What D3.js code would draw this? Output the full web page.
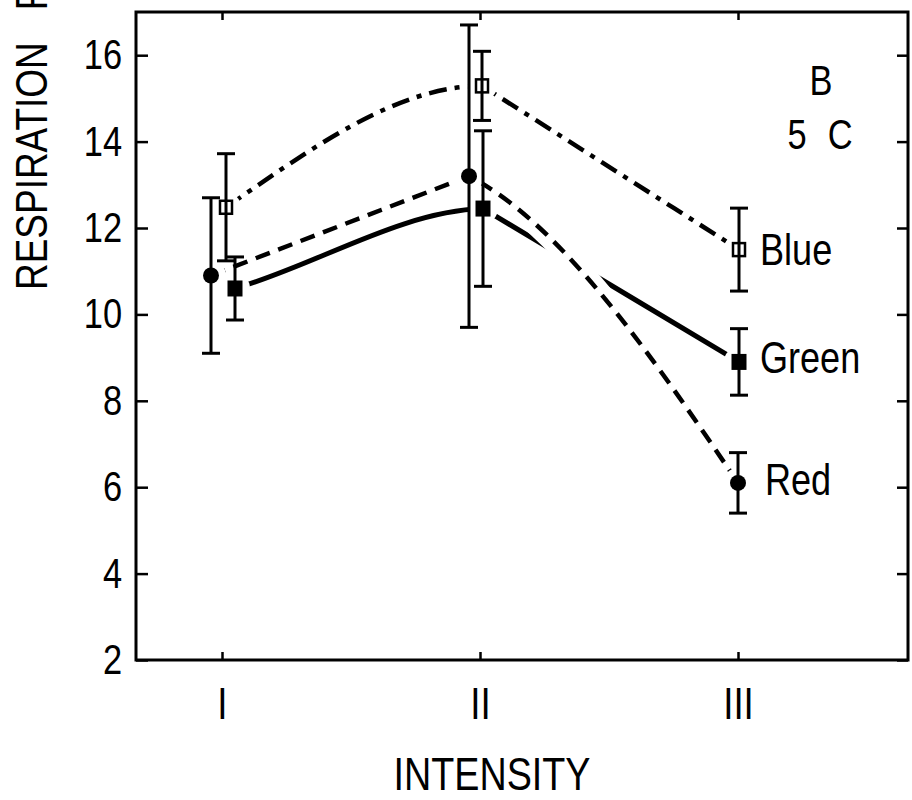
<!DOCTYPE html>
<html>
<head>
<meta charset="utf-8">
<script src="https://cdn.jsdelivr.net/npm/d3@7"></script>
<style>
  html, body { margin: 0; padding: 0; background: #fff; }
  svg { display: block; }
  text { fill: #000; }
</style>
</head>
<body>
<svg id="chart"></svg>
<script>
/* ------------------ data ------------------ */

const CATEGORIES = ["I", "II", "III"];
const Y_TICKS = [2, 4, 6, 8, 10, 12, 14, 16];

const RED_MEAN = [10.9, 13.2, 6.1];
const RED_ERR = [1.8, 3.5, 0.7];

const GREEN_MEAN = [10.6, 12.45, 8.9];
const GREEN_ERR = [0.73, 1.8, 0.77];

const BLUE_MEAN = [12.48, 15.29, 11.5];
const BLUE_ERR = [1.24, 0.8, 0.96];

const SERIES_NAMES = ["Blue", "Green", "Red"];

/* ------------------ layout / style ------------------ */

const WIDTH = 912;
const HEIGHT = 800;
const FRAME = { left: 136, right: 908, top: 12, bottom: 660 };
const FONT = "'Liberation Sans', Arial, sans-serif";
const SQUEEZE = 0.82;   // the original lettering is a narrow sans
const GAP = 15;

// horizontal dodge of each series inside a category, in px
const DODGE = {
  Red: [-11, -11, 0],
  Blue: [4, 2, 1],
  Green: [13, 3, 1]
};

// curve shape per segment: tangent multipliers of the chord slope
const BEND = {
  Red: [[1, 1], [0.45, 1.3]],
  Blue: [[1.45, 0], [1, 1]],
  Green: [[0.9, 0.1], [1, 1]]
};

const series = [
  { name: "Blue", mean: BLUE_MEAN, err: BLUE_ERR, dash: "18,8,5,8", width: 4.5, marker: "open" },
  { name: "Green", mean: GREEN_MEAN, err: GREEN_ERR, dash: null, width: 5, marker: "square" },
  { name: "Red", mean: RED_MEAN, err: RED_ERR, dash: "15,9", width: 4.5, marker: "circle" }
];

/* ------------------ scales ------------------ */

const x = d3.scaleLinear().domain([1, 3]).range([222, 738]);
const y = d3.scaleLinear().domain([2, 17]).range([FRAME.bottom, FRAME.top]);

series.forEach(s => {
  s.points = s.mean.map((m, i) => ({
    x: x(i + 1) + DODGE[s.name][i],
    y: y(m),
    hi: y(m + s.err[i]),
    lo: y(m - s.err[i])
  }));
});

function bentPath(pts, bends) {
  const p = d3.path();
  p.moveTo(pts[0].x, pts[0].y);
  for (let i = 0; i < pts.length - 1; i++) {
    const a = pts[i], b = pts[i + 1];
    const dx = b.x - a.x;
    const c = (b.y - a.y) / dx;
    const [ka, kb] = bends[i];
    p.bezierCurveTo(
      a.x + dx / 3, a.y + ka * c * dx / 3,
      b.x - dx / 3, b.y - kb * c * dx / 3,
      b.x, b.y
    );
  }
  return p.toString();
}

// narrow text placed at (tx, ty)
function label(parent, tx, ty, str, size, rotate = 0, squeeze = SQUEEZE) {
  return parent.append("text")
    .attr("transform", `translate(${tx},${ty}) rotate(${rotate}) scale(${squeeze},1)`)
    .attr("font-size", size)
    .text(str);
}

/* ------------------ render ------------------ */

const svg = d3.select("#chart")
  .attr("width", WIDTH)
  .attr("height", HEIGHT)
  .style("font-family", FONT);

const defs = svg.append("defs");

series.forEach(s => {
  const mask = defs.append("mask")
    .attr("id", `gap-${s.name}`)
    .attr("maskUnits", "userSpaceOnUse")
    .attr("x", 0).attr("y", 0)
    .attr("width", WIDTH).attr("height", HEIGHT);
  mask.append("rect")
    .attr("width", WIDTH).attr("height", HEIGHT)
    .attr("fill", "#fff");
  mask.selectAll("circle")
    .data(s.points)
    .join("circle")
    .attr("cx", d => d.x)
    .attr("cy", d => d.y)
    .attr("r", GAP)
    .attr("fill", "#000");
});

/* ---- axes ---- */

const axisText = g => g.selectAll("text")
  .style("font-family", FONT)
  .attr("fill", "#000")
  .attr("transform", `scale(${SQUEEZE},1)`);

svg.append("g")
  .attr("transform", `translate(${FRAME.left},0)`)
  .call(d3.axisLeft(y).tickValues(Y_TICKS).tickSize(-12).tickPadding(17).tickFormat(d3.format("d")))
  .attr("font-size", 42)
  .call(axisText);

svg.append("g")
  .attr("transform", `translate(${FRAME.right},0)`)
  .call(d3.axisRight(y).tickValues(Y_TICKS).tickSize(-11).tickFormat(""));

svg.append("g")
  .attr("transform", `translate(0,${FRAME.top})`)
  .call(d3.axisTop(x).tickValues([1, 2, 3]).tickSize(-8).tickFormat(""));

svg.append("g")
  .attr("transform", `translate(0,${FRAME.bottom})`)
  .call(d3.axisBottom(x).tickValues([1, 2, 3]).tickSize(-8).tickPadding(27)
    .tickFormat(d => CATEGORIES[d - 1]))
  .attr("font-size", 45)
  .call(axisText);

svg.selectAll(".domain").remove();
svg.selectAll(".tick line").attr("stroke", "#000").attr("stroke-width", 2.5);

svg.append("rect")
  .attr("x", FRAME.left)
  .attr("y", FRAME.top)
  .attr("width", FRAME.right - FRAME.left)
  .attr("height", FRAME.bottom - FRAME.top)
  .attr("fill", "none")
  .attr("stroke", "#000")
  .attr("stroke-width", 3);

/* ---- axis titles ---- */

// the title runs off the top edge of the page, as in the original
label(svg, 47, 290, "RESPIRATION RATE", 44, -90, 0.84)
  .attr("word-spacing", 26);

label(svg, 492, 790, "INTENSITY", 46)
  .attr("text-anchor", "middle");

/* ---- panel label ---- */

label(svg, 821, 95, "B", 42)
  .attr("text-anchor", "middle");

label(svg, 820, 149, "5 C", 42)
  .attr("text-anchor", "middle")
  .attr("word-spacing", 14)
  .attr("xml:space", "preserve");

/* ---- lines ---- */

const lines = svg.append("g").attr("fill", "none").attr("stroke-linecap", "butt");

series.forEach(s => {
  const d = bentPath(s.points, BEND[s.name]);
  if (s.name === "Red") {
    // white casing knocks a gap out of the green line where they cross
    lines.append("path")
      .attr("d", d)
      .attr("mask", `url(#gap-${s.name})`)
      .attr("stroke", "#fff")
      .attr("stroke-width", 22);
  }
  lines.append("path")
    .attr("d", d)
    .attr("mask", `url(#gap-${s.name})`)
    .attr("stroke", "#000")
    .attr("stroke-width", s.width)
    .attr("stroke-dasharray", s.dash);
});

/* ---- error bars ---- */

const CAP = 9;
const bars = svg.append("g").attr("stroke", "#000").attr("stroke-width", 3);

series.forEach(s => {
  const g = bars.append("g");
  g.selectAll("line.stem").data(s.points).join("line")
    .attr("class", "stem")
    .attr("x1", d => d.x).attr("x2", d => d.x)
    .attr("y1", d => d.hi).attr("y2", d => d.lo);
  g.selectAll("line.cap-hi").data(s.points).join("line")
    .attr("class", "cap-hi")
    .attr("x1", d => d.x - CAP).attr("x2", d => d.x + CAP)
    .attr("y1", d => d.hi).attr("y2", d => d.hi);
  g.selectAll("line.cap-lo").data(s.points).join("line")
    .attr("class", "cap-lo")
    .attr("x1", d => d.x - CAP).attr("x2", d => d.x + CAP)
    .attr("y1", d => d.lo).attr("y2", d => d.lo);
});

/* ---- markers ---- */

const marks = svg.append("g");

series.forEach(s => {
  const g = marks.append("g");
  if (s.marker === "circle") {
    g.selectAll("circle").data(s.points).join("circle")
      .attr("cx", d => d.x).attr("cy", d => d.y)
      .attr("r", 8).attr("fill", "#000");
  } else if (s.marker === "square") {
    g.selectAll("rect").data(s.points).join("rect")
      .attr("x", d => d.x - 7.5).attr("y", d => d.y - 8)
      .attr("width", 15).attr("height", 16)
      .attr("fill", "#000");
  } else {
    g.selectAll("rect").data(s.points).join("rect")
      .attr("x", d => d.x - 6).attr("y", d => d.y - 6.5)
      .attr("width", 12).attr("height", 13)
      .attr("fill", "none")
      .attr("stroke", "#000")
      .attr("stroke-width", 2.5);
  }
});

/* ---- series labels ---- */

const LABEL_POS = { Blue: [760, 265], Green: [760, 373], Red: [765, 495] };

const seriesLabels = svg.append("g");
SERIES_NAMES.forEach(n => label(seriesLabels, LABEL_POS[n][0], LABEL_POS[n][1], n, 44));
</script>
</body>
</html>
